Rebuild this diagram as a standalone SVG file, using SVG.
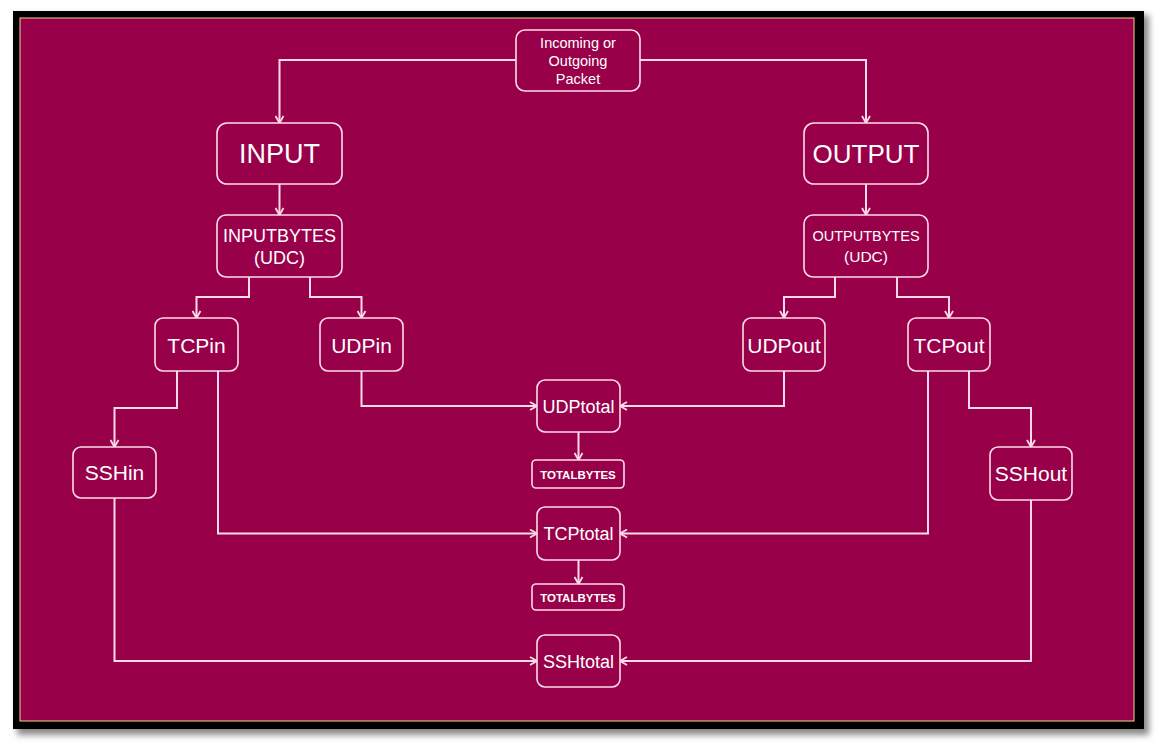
<svg xmlns="http://www.w3.org/2000/svg" width="1158" height="744" viewBox="0 0 1158 744">
<defs>
<style>
.node rect{fill:#99004a;stroke:#fcdbe9;stroke-width:1.6}
.node text{fill:#ffffff;font-family:"Liberation Sans",Arial,sans-serif;text-anchor:middle}
.edges path{fill:none;stroke:#fcdbe9;stroke-width:2;marker-end:url(#arr)}
</style>
<marker id="arr" viewBox="0 0 10 10" markerWidth="10" markerHeight="10" refX="9" refY="5" orient="auto" markerUnits="userSpaceOnUse">
<path d="M2,1 L9,5 L2,9" fill="none" stroke="#fcdbe9" stroke-width="1.8"/>
</marker>
<filter id="sh" x="-5%" y="-5%" width="110%" height="110%"><feGaussianBlur stdDeviation="3"/></filter>
</defs>
<rect width="1158" height="744" fill="#ffffff"/>
<rect x="17" y="15" width="1132" height="720" fill="#8a8a8a" filter="url(#sh)"/>
<rect x="13" y="11" width="1131" height="718" fill="#000000"/>
<rect x="20" y="18" width="1114" height="703" fill="#99004a" stroke="#f4d58a" stroke-width="1"/>

<g class="edges">
<path d="M516,60 H279.5 V123"/>
<path d="M640,60 H866 V123"/>
<path d="M279.5,184 V215"/>
<path d="M866,184 V215"/>
<path d="M249,277 V297 H196.5 V318"/>
<path d="M310,277 V297 H361.5 V318"/>
<path d="M835,277 V297 H784 V318"/>
<path d="M897,277 V297 H949 V318"/>
<path d="M177,371 V408 H114.5 V447"/>
<path d="M218,371 V533.5 H537"/>
<path d="M361.5,371 V406 H537"/>
<path d="M784,371 V406 H620"/>
<path d="M928,371 V533.5 H620"/>
<path d="M969,371 V408 H1031 V447"/>
<path d="M114.5,498 V661 H537"/>
<path d="M1031,500 V661 H620"/>
<path d="M578.5,432 V460"/>
<path d="M578.5,560 V584"/>
</g>

<g id="packet" class="node"><rect x="516" y="30" width="124" height="61" rx="9"/><text x="578" y="48" font-size="14.5">Incoming or</text><text x="578" y="66" font-size="14.5">Outgoing</text><text x="578" y="84" font-size="14.5">Packet</text></g>
<g id="input" class="node"><rect x="217" y="123" width="125" height="61" rx="10"/><text x="279.5" y="163" font-size="27">INPUT</text></g>
<g id="output" class="node"><rect x="804" y="123" width="124" height="61" rx="10"/><text x="866" y="163" font-size="26">OUTPUT</text></g>
<g id="inputbytes" class="node"><rect x="217" y="215" width="125" height="62" rx="9"/><text x="279.5" y="242" font-size="18">INPUTBYTES</text><text x="279.5" y="264" font-size="18">(UDC)</text></g>
<g id="outputbytes" class="node"><rect x="804" y="215" width="124" height="62" rx="9"/><text x="866" y="241" font-size="14.5">OUTPUTBYTES</text><text x="866" y="262" font-size="15.5">(UDC)</text></g>
<g id="tcpin" class="node"><rect x="155" y="318" width="83" height="53" rx="8"/><text x="196.5" y="352.5" font-size="21">TCPin</text></g>
<g id="udpin" class="node"><rect x="320" y="318" width="83" height="53" rx="8"/><text x="361.5" y="352.5" font-size="21">UDPin</text></g>
<g id="udpout" class="node"><rect x="743" y="318" width="82" height="53" rx="8"/><text x="784" y="352.5" font-size="21">UDPout</text></g>
<g id="tcpout" class="node"><rect x="908" y="318" width="82" height="53" rx="8"/><text x="949" y="352.5" font-size="21">TCPout</text></g>
<g id="sshin" class="node"><rect x="73" y="447" width="83" height="51" rx="8"/><text x="114.5" y="480" font-size="21">SSHin</text></g>
<g id="sshout" class="node"><rect x="990" y="447" width="82" height="53" rx="8"/><text x="1031" y="481" font-size="21">SSHout</text></g>
<g id="udptotal" class="node"><rect x="537" y="380" width="83" height="52" rx="8"/><text x="578.5" y="412.5" font-size="18">UDPtotal</text></g>
<g id="totalbytes1" class="node"><rect x="532" y="460" width="92" height="28" rx="4"/><text x="578" y="478.5" font-size="11.5" font-weight="bold">TOTALBYTES</text></g>
<g id="tcptotal" class="node"><rect x="537" y="507" width="83" height="53" rx="8"/><text x="578.5" y="540" font-size="18">TCPtotal</text></g>
<g id="totalbytes2" class="node"><rect x="532" y="584" width="92" height="26" rx="4"/><text x="578" y="601.5" font-size="11.5" font-weight="bold">TOTALBYTES</text></g>
<g id="sshtotal" class="node"><rect x="537" y="635" width="83" height="52" rx="8"/><text x="578.5" y="667.5" font-size="18">SSHtotal</text></g>
</svg>
